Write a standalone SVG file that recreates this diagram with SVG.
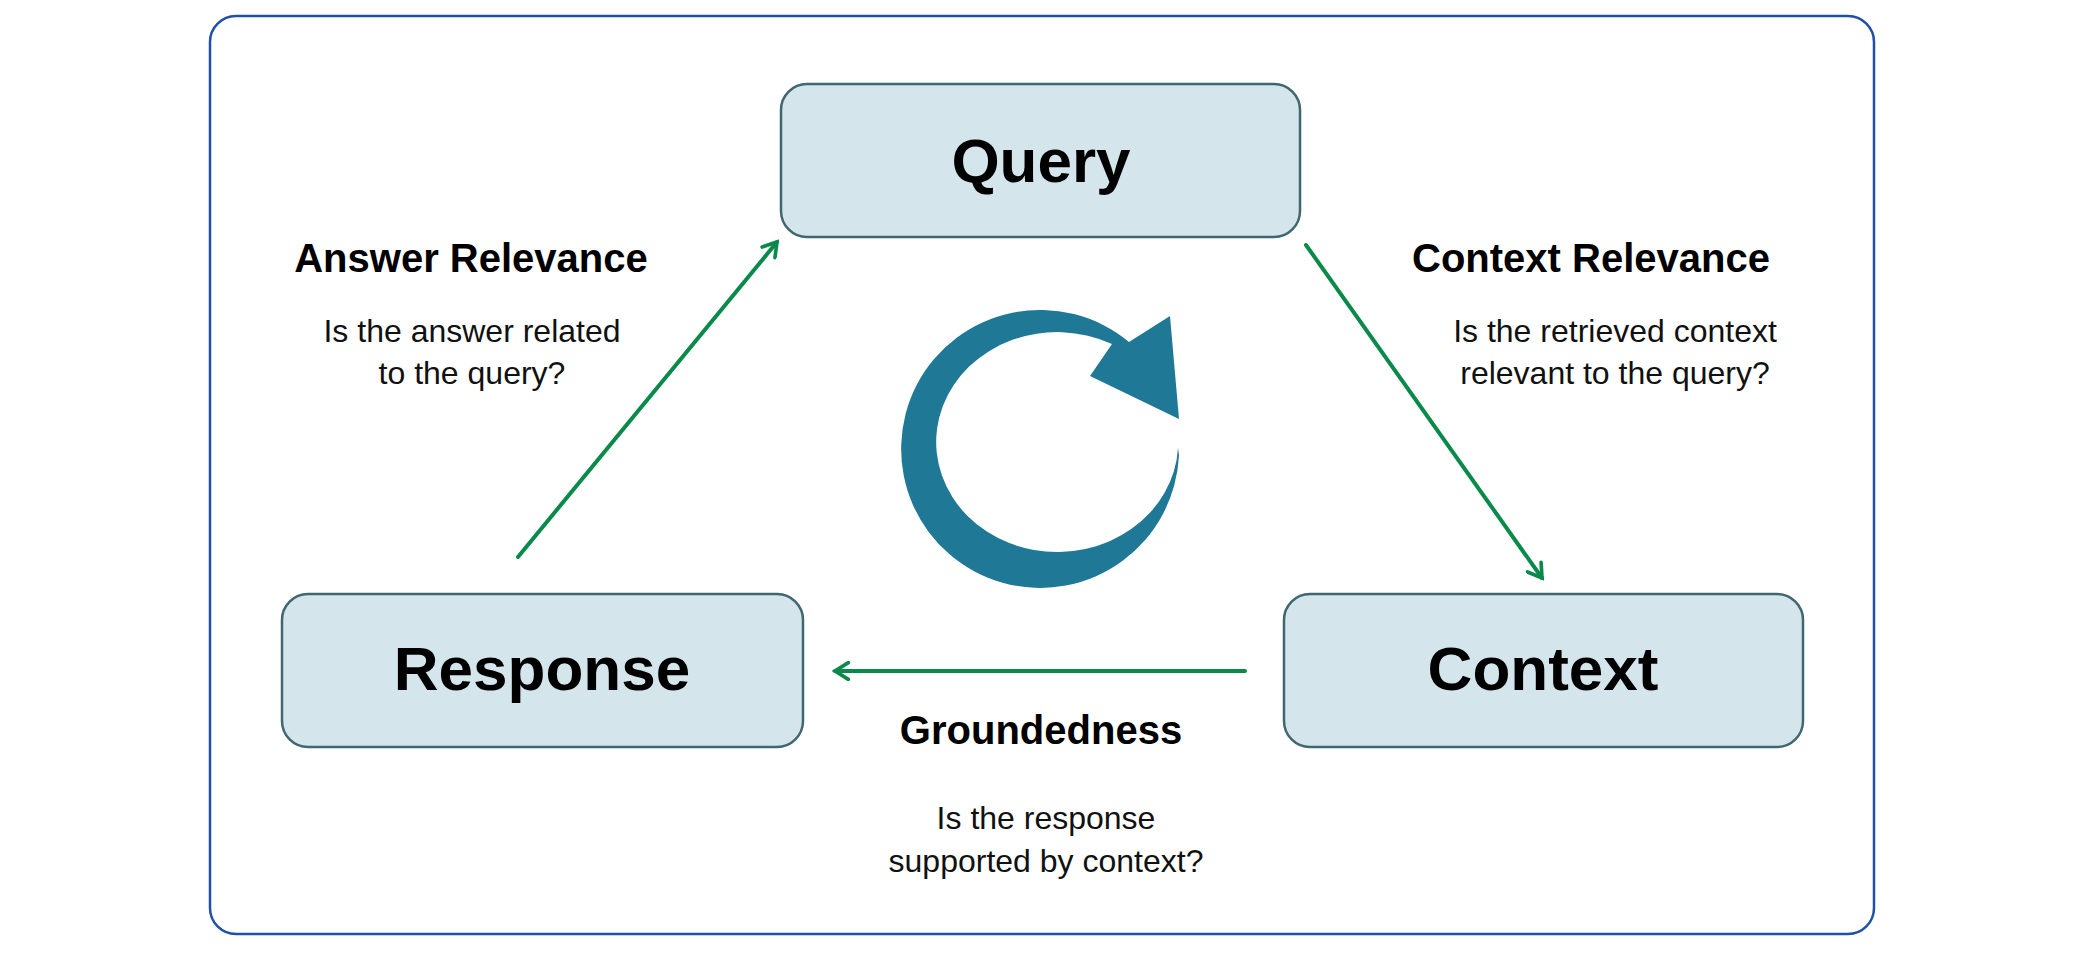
<svg xmlns="http://www.w3.org/2000/svg" width="2084" height="953" viewBox="0 0 2084 953">
<style>
.box{fill:#d4e6ec;stroke:#40666f;stroke-width:2.5}
.node{font-family:"Liberation Sans",Arial,sans-serif;font-weight:bold;font-size:62px;fill:#000;text-anchor:middle}
.h{font-family:"Liberation Sans",Arial,sans-serif;font-weight:bold;font-size:40px;fill:#000;text-anchor:middle}
.t{font-family:"Liberation Sans",Arial,sans-serif;font-size:32px;fill:#111;text-anchor:middle}
.c{stroke:#0a8a4a;stroke-width:4;fill:none;stroke-linecap:round}
</style>
<defs><marker id="a" viewBox="0 0 12 12" refX="10" refY="6" markerWidth="5" markerHeight="5" orient="auto" markerUnits="strokeWidth"><path d="M2 1 L10 6 L2 11" fill="none" stroke="#0a8a4a" stroke-width="2.2" stroke-linecap="round"/></marker></defs>
<rect x="210" y="16" width="1664" height="918" rx="26" fill="#fff" stroke="#1f4fa8" stroke-width="2.5"/>
<g id="query"><rect class="box" x="781" y="84" width="519" height="153" rx="26"/><text class="node" x="1041" y="182">Query</text></g>
<g id="response"><rect class="box" x="282" y="594" width="521" height="153" rx="26"/><text class="node" x="542" y="690">Response</text></g>
<g id="context"><rect class="box" x="1284" y="594" width="519" height="153" rx="26"/><text class="node" x="1543" y="690">Context</text></g>
<g id="connectors">
<line class="c" x1="518" y1="557" x2="777" y2="242" marker-end="url(#a)"/>
<line class="c" x1="1306" y1="245" x2="1542" y2="578" marker-end="url(#a)"/>
<line class="c" x1="1245" y1="671" x2="835" y2="671" marker-end="url(#a)"/>
</g>
<g id="labels">
<text class="h" x="471" y="272">Answer Relevance</text>
<text class="t" x="472" y="342">Is the answer related</text>
<text class="t" x="472" y="384">to the query?</text>
<text class="h" x="1591" y="272">Context Relevance</text>
<text class="t" x="1615" y="342">Is the retrieved context</text>
<text class="t" x="1615" y="384">relevant to the query?</text>
<text class="h" x="1041" y="744">Groundedness</text>
<text class="t" x="1046" y="829">Is the response</text>
<text class="t" x="1046" y="872">supported by context?</text>
</g>
<g id="cycle"><path fill="#1e7896" d="M1179 455 A139 139 0 1 1 1129 342 L1170 316 L1179 419 L1090 376 L1112 344 A121 110 0 1 0 1178 448 Z"/></g>
</svg>
